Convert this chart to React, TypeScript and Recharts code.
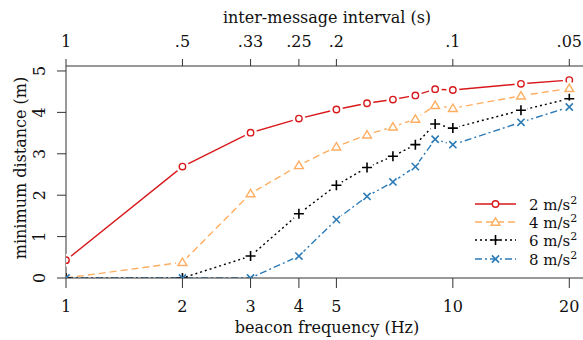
import React from 'react';
import { LineChart, Line, XAxis, YAxis, Legend } from 'recharts';

// beacon frequencies (Hz) where the distance was measured
const frequencies = [1, 2, 3, 4, 5, 6, 7, 8, 9, 10, 15, 20];

// minimum distance (m) per deceleration
const dist2 = [0.43, 2.69, 3.51, 3.85, 4.07, 4.22, 4.31, 4.41, 4.56, 4.54, 4.69, 4.78];
const dist4 = [0, 0.38, 2.04, 2.72, 3.17, 3.46, 3.65, 3.84, 4.17, 4.1, 4.4, 4.58];
const dist6 = [0, 0, 0.53, 1.55, 2.24, 2.67, 2.94, 3.22, 3.72, 3.62, 4.05, 4.33];
const dist8 = [0, 0, 0, 0.53, 1.41, 1.97, 2.32, 2.69, 3.35, 3.22, 3.76, 4.13];

const bottomTicks = [1, 2, 3, 4, 5, 10, 20];
const topTickLabels = ['1', '.5', '.33', '.25', '.2', '.1', '.05'];
const yTicks = [0, 1, 2, 3, 4, 5];

const FONT = "'DejaVu Serif', serif";
const AXIS = '#333';

type Kind = 'circle' | 'triangle' | 'plus' | 'cross';

const series: { key: string; label: string; color: string; dash?: string; kind: Kind }[] = [
  { key: 'a2', label: '2', color: '#d7191c', kind: 'circle' },
  { key: 'a4', label: '4', color: '#fdae61', dash: '7 4', kind: 'triangle' },
  { key: 'a6', label: '6', color: '#000000', dash: '2 3', kind: 'plus' },
  { key: 'a8', label: '8', color: '#2c7bb6', dash: '7 3 2 3', kind: 'cross' },
];

const rows = frequencies.map((f, i) => ({
  f,
  a2: dist2[i],
  a4: dist4[i],
  a6: dist6[i],
  a8: dist8[i],
}));

const Marker = ({ kind, x, y, color }: { kind: Kind; x: number; y: number; color: string }) => {
  if (kind === 'circle')
    return <circle cx={x} cy={y} r={3.2} fill="#fff" stroke={color} strokeWidth={1.4} />;
  if (kind === 'triangle')
    return (
      <path
        d={`M${x},${y - 4.2}L${x + 4.4},${y + 3.2}L${x - 4.4},${y + 3.2}Z`}
        fill="#fff"
        stroke={color}
        strokeWidth={1.4}
      />
    );
  if (kind === 'plus')
    return (
      <path d={`M${x - 5},${y}H${x + 5}M${x},${y - 5}V${y + 5}`} stroke={color} strokeWidth={1.6} />
    );
  return (
    <path
      d={`M${x - 3.6},${y - 3.6}L${x + 3.6},${y + 3.6}M${x - 3.6},${y + 3.6}L${x + 3.6},${y - 3.6}`}
      stroke={color}
      strokeWidth={1.6}
    />
  );
};

const YTick = (props: any) => {
  const { x, y, payload } = props;
  return (
    <text
      x={x}
      y={y}
      transform={`rotate(-90 ${x} ${y})`}
      textAnchor="middle"
      fontFamily={FONT}
      fontSize={16}
      fill="#111"
    >
      {payload.value}
    </text>
  );
};

const BottomTick = (props: any) => {
  const { x, y, payload } = props;
  return (
    <text x={x} y={y} textAnchor="middle" fontFamily={FONT} fontSize={16} fill="#111">
      {payload.value}
    </text>
  );
};

const TopTick = (props: any) => {
  const { x, y, payload, index } = props;
  return (
    <text x={x} y={y} textAnchor="middle" fontFamily={FONT} fontSize={16} fill="#111">
      {topTickLabels[index] ?? payload.value}
    </text>
  );
};

const renderLegend = () => (
  <div style={{ fontFamily: FONT, fontSize: 15, color: '#111', lineHeight: 1 }}>
    {series.map((s) => (
      <div key={s.key} style={{ display: 'flex', alignItems: 'center', height: 18.2, whiteSpace: 'nowrap' }}>
        <svg width={45} height={14} style={{ marginRight: 10, flexShrink: 0 }}>
          <line x1={1} y1={7} x2={42} y2={7} stroke={s.color} strokeWidth={1.4} strokeDasharray={s.dash} />
          <Marker kind={s.kind} x={21.5} y={7} color={s.color} />
        </svg>
        <span>
          {s.label} m/s<sup style={{ fontSize: 11, verticalAlign: 6 }}>2</sup>
        </span>
      </div>
    ))}
  </div>
);

export default function App() {
  return (
    <div style={{ position: 'absolute', left: 0, top: 0, background: '#fff' }}>
      <LineChart width={583} height={340} data={rows} margin={{ top: 0, right: 0, bottom: 0, left: 0 }}>
        <XAxis
          dataKey="f"
          xAxisId="bottom"
          type="number"
          scale="log"
          domain={[1, 21.7]}
          allowDataOverflow
          ticks={bottomTicks}
          height={62}
          tickSize={10}
          tickMargin={24}
          stroke={AXIS}
          tick={<BottomTick />}
          label={{
            content: () => (
              <text x={327} y={333} textAnchor="middle" fontFamily={FONT} fontSize={16} fill="#111">
                beacon frequency (Hz)
              </text>
            ),
          }}
        />
        <XAxis
          dataKey="f"
          xAxisId="top"
          orientation="top"
          type="number"
          scale="log"
          domain={[1, 21.7]}
          allowDataOverflow
          ticks={bottomTicks}
          height={66}
          tickSize={7}
          tickMargin={12}
          stroke={AXIS}
          tick={<TopTick />}
          label={{
            content: () => (
              <text x={327} y={23} textAnchor="middle" fontFamily={FONT} fontSize={16} fill="#111">
                inter-message interval (s)
              </text>
            ),
          }}
        />
        <YAxis
          type="number"
          domain={[0, 5.12]}
          allowDataOverflow
          ticks={yTicks}
          width={66}
          tickSize={9}
          tickMargin={12}
          stroke={AXIS}
          tick={<YTick />}
          label={{
            content: () => (
              <text
                x={26}
                y={168}
                transform="rotate(-90 26 168)"
                textAnchor="middle"
                fontFamily={FONT}
                fontSize={16}
                fill="#111"
              >
                minimum distance (m)
              </text>
            ),
          }}
        />
        <Legend
          layout="horizontal"
          verticalAlign="middle"
          align="center"
          content={renderLegend}
          wrapperStyle={{ position: 'absolute', left: 474, top: 195, width: 109 }}
        />
        {series.map((s) => (
          <Line
            key={s.key}
            xAxisId="bottom"
            dataKey={s.key}
            stroke={s.color}
            strokeWidth={1.4}
            strokeDasharray={s.dash}
            type="linear"
            isAnimationActive={false}
            dot={(p: any) => (
              <g key={`${s.key}-${p.index}`}>
                {p.value > 0 && <circle cx={p.cx} cy={p.cy} r={6.5} fill="#fff" />}
                <Marker kind={s.kind} x={p.cx} y={p.cy} color={s.color} />
              </g>
            )}
            activeDot={false}
          />
        ))}
      </LineChart>
    </div>
  );
}
